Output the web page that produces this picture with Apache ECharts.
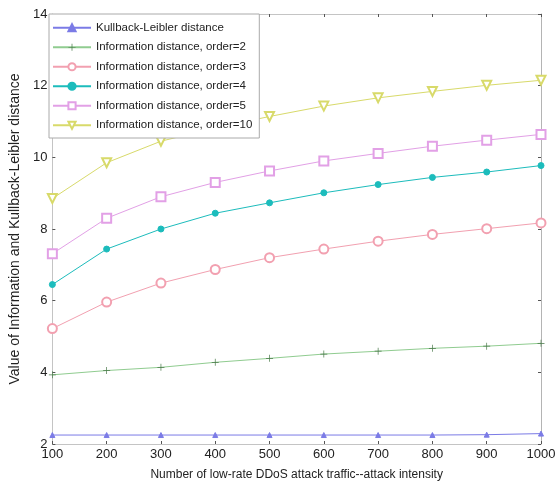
<!DOCTYPE html>
<html>
<head>
<meta charset="utf-8">
<script src="https://cdn.jsdelivr.net/npm/echarts@6/dist/echarts.min.js"></script>
<style>
html, body { margin: 0; padding: 0; background: #fff; }
#main { width: 560px; height: 486px; }
</style>
</head>
<body>
<div id="main"></div>
<script>
var intensity = [100, 200, 300, 400, 500, 600, 700, 800, 900, 1000];
var klDist = [2.25, 2.25, 2.25, 2.25, 2.25, 2.25, 2.25, 2.25, 2.26, 2.29];
var order2 = [3.93, 4.05, 4.14, 4.28, 4.39, 4.51, 4.59, 4.67, 4.73, 4.81];
var order3 = [5.22, 5.96, 6.49, 6.87, 7.20, 7.44, 7.66, 7.85, 8.01, 8.17];
var order4 = [6.45, 7.44, 8.00, 8.44, 8.73, 9.01, 9.24, 9.44, 9.59, 9.77];
var order5 = [7.31, 8.30, 8.90, 9.30, 9.62, 9.90, 10.11, 10.31, 10.48, 10.64];
var order10 = [8.85, 9.85, 10.45, 10.82, 11.14, 11.43, 11.66, 11.84, 12.01, 12.15];
var seriesNames = [
	'Kullback-Leibler distance',
	'Information distance, order=2',
	'Information distance, order=3',
	'Information distance, order=4',
	'Information distance, order=5',
	'Information distance, order=10'
];

function pairs(vals) {
	var out = [];
	for (var i = 0; i < intensity.length; i++) {
		out.push([intensity[i], vals[i]]);
	}
	return out;
}

var plus = 'path://M4.5,0H5.5V10H4.5ZM0,4.5H10V5.5H0Z';
var font = 'Liberation Sans, Arial, sans-serif';

function line(name, vals, color, symbol, size, extra) {
	var s = {
		name: name,
		type: 'line',
		data: pairs(vals),
		color: color,
		symbol: symbol,
		symbolSize: size,
		showAllSymbol: true,
		lineStyle: { width: 1, color: color },
		itemStyle: { color: color, borderColor: color, borderWidth: 1 },
		animation: false,
		z: 3
	};
	if (extra) {
		for (var k in extra) s[k] = extra[k];
	}
	return s;
}

var myChart = echarts.init(document.getElementById('main'));
var option = {
	backgroundColor: '#fff',
	grid: { left: 47, right: 19, top: 14, bottom: 40 },
	legend: {
		orient: 'vertical',
		left: 49,
		top: 14,
		padding: [7, 7, 6, 3],
		itemGap: 6,
		itemWidth: 38,
		itemHeight: 9,
		backgroundColor: '#fff',
		borderColor: '#aaa',
		borderWidth: 1,
		textStyle: { fontFamily: font, fontSize: 11.5, lineHeight: 13.5, color: '#222' },
		data: seriesNames
	},
	xAxis: [{
		type: 'value',
		min: 100,
		max: 1000,
		interval: 100,
		name: 'Number of low-rate DDoS attack traffic--attack intensity',
		nameLocation: 'middle',
		nameGap: 25,
		nameTextStyle: { fontFamily: font, fontSize: 12, color: '#222' },
		axisLine: { lineStyle: { color: '#c4c4c4' } },
		axisTick: { inside: true, length: 3, lineStyle: { color: '#555' } },
		axisLabel: {
			fontFamily: font, fontSize: 13, color: '#222', margin: 4,
			formatter: function (v) { return String(v); }
		},
		splitLine: { show: false }
	}, {
		type: 'value',
		position: 'top',
		min: 100,
		max: 1000,
		interval: 100,
		axisLine: { show: true, lineStyle: { color: '#c4c4c4' } },
		axisTick: { inside: true, length: 3, lineStyle: { color: '#555' } },
		axisLabel: { show: false },
		splitLine: { show: false }
	}],
	yAxis: [{
		type: 'value',
		min: 2,
		max: 14,
		interval: 2,
		name: 'Value of Information and Kullback-Leibler distance',
		nameLocation: 'middle',
		nameGap: 19,
		nameTextStyle: { fontFamily: font, fontSize: 14, color: '#222' },
		axisLine: { show: true, lineStyle: { color: '#c4c4c4' } },
		axisTick: { show: true, inside: true, length: 3, lineStyle: { color: '#555' } },
		axisLabel: { fontFamily: font, fontSize: 13, color: '#222', margin: 5 },
		splitLine: { show: false }
	}, {
		type: 'value',
		position: 'right',
		min: 2,
		max: 14,
		interval: 2,
		axisLine: { show: true, lineStyle: { color: '#b4b4b4' } },
		axisTick: { show: true, inside: true, length: 3, lineStyle: { color: '#555' } },
		axisLabel: { show: false },
		splitLine: { show: false }
	}],
	series: [
		line(seriesNames[0], klDist, '#7b7be6', 'triangle', 5),
		line(seriesNames[1], order2, '#90cc90', plus, 7, { itemStyle: { color: '#4a7a4a' } }),
		line(seriesNames[2], order3, '#f2a0b0', 'emptyCircle', 9),
		line(seriesNames[3], order4, '#1cbcbc', 'circle', 6),
		line(seriesNames[4], order5, '#e2a0e6', 'emptyRect', 9),
		line(seriesNames[5], order10, '#d8da6a', 'emptyTriangle', 9, { symbolRotate: 180 })
	]
};
myChart.setOption(option);
</script>
</body>
</html>
